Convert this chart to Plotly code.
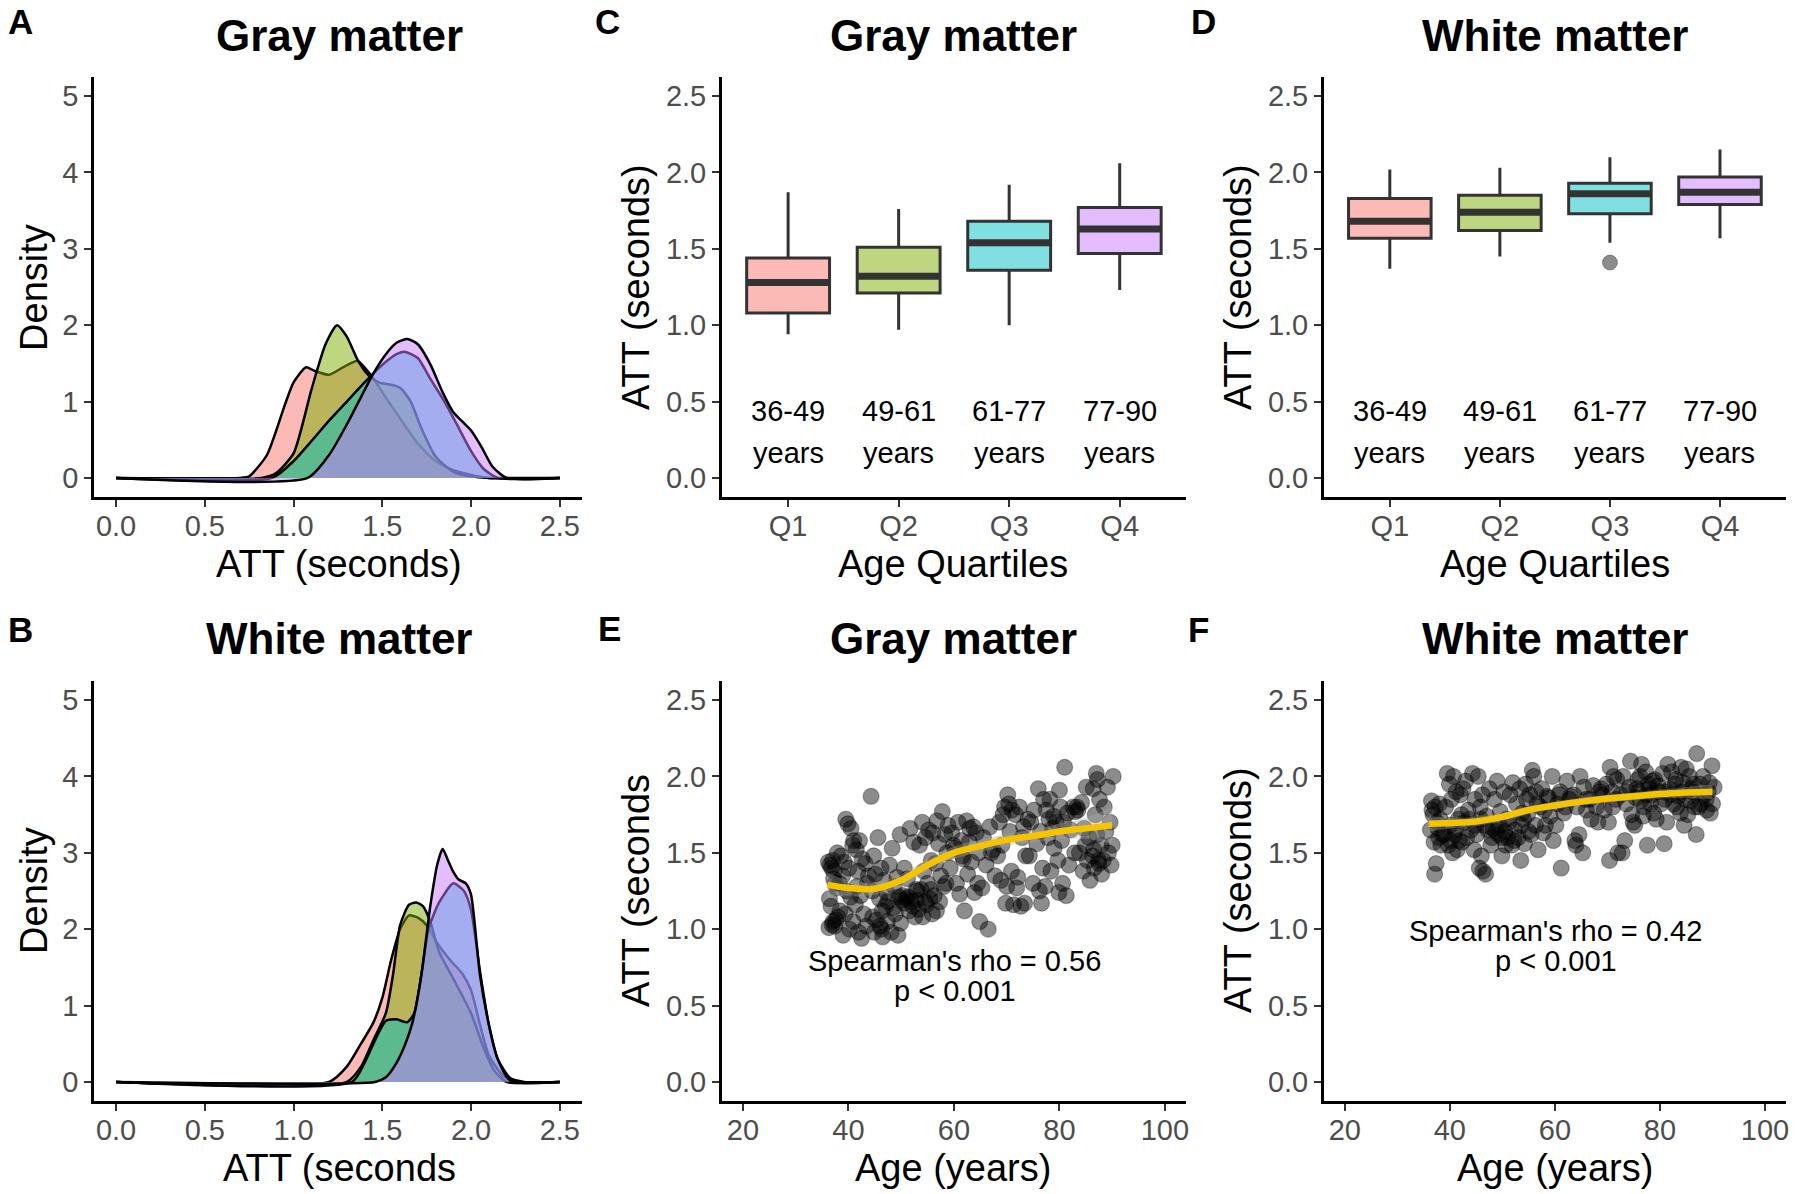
import plotly.graph_objects as go

W, H = 1800, 1194
FONT = "Liberation Sans, Arial, Helvetica, sans-serif"

# ---------------- data ----------------
quartiles = ["Q1", "Q2", "Q3", "Q4"]
age_ranges = ["36-49", "49-61", "61-77", "77-90"]

# Panel A: gray matter ATT density per age quartile
gm_d_q1_x = [0.0, 0.70, 0.75, 0.85, 0.95, 1.00, 1.07, 1.12, 1.20, 1.28, 1.36, 1.45, 1.52, 1.60, 1.70, 1.80, 1.90, 2.00, 2.10, 2.5]
gm_d_q1_y = [0, 0, 0.02, 0.30, 0.95, 1.25, 1.45, 1.40, 1.35, 1.45, 1.53, 1.30, 1.05, 0.78, 0.45, 0.22, 0.10, 0.04, 0, 0]
gm_d_q2_x = [0.0, 0.82, 0.90, 1.00, 1.10, 1.18, 1.245, 1.30, 1.36, 1.42, 1.48, 1.55, 1.60, 1.66, 1.72, 1.80, 1.90, 2.00, 2.10, 2.5]
gm_d_q2_y = [0, 0, 0.06, 0.32, 1.15, 1.75, 2.00, 1.85, 1.55, 1.35, 1.25, 1.22, 1.18, 1.00, 0.65, 0.28, 0.08, 0.02, 0, 0]
gm_d_q3_x = [0.0, 0.88, 1.00, 1.10, 1.20, 1.30, 1.40, 1.45, 1.52, 1.58, 1.63, 1.70, 1.77, 1.85, 1.92, 2.00, 2.07, 2.15, 2.5]
gm_d_q3_y = [0, 0, 0.22, 0.48, 0.75, 1.00, 1.25, 1.37, 1.52, 1.62, 1.65, 1.57, 1.30, 1.00, 0.70, 0.35, 0.12, 0, 0]
gm_d_q4_x = [0.0, 1.08, 1.20, 1.30, 1.40, 1.45, 1.52, 1.58, 1.64, 1.70, 1.77, 1.84, 1.90, 1.95, 2.00, 2.06, 2.12, 2.20, 2.5]
gm_d_q4_y = [0, 0, 0.30, 0.70, 1.15, 1.37, 1.62, 1.77, 1.82, 1.75, 1.49, 1.12, 0.86, 0.74, 0.62, 0.40, 0.15, 0, 0]

# Panel B: white matter ATT density per age quartile
wm_d_q1_x = [0.0, 1.20, 1.30, 1.38, 1.45, 1.50, 1.55, 1.60, 1.65, 1.70, 1.75, 1.80, 1.88, 1.95, 2.00, 2.05, 2.10, 2.18, 2.25, 2.5]
wm_d_q1_y = [0, 0, 0.20, 0.50, 0.78, 1.10, 1.60, 2.00, 2.18, 2.15, 2.05, 1.85, 1.60, 1.42, 1.20, 0.75, 0.35, 0.08, 0, 0]
wm_d_q2_x = [0.0, 1.30, 1.38, 1.45, 1.52, 1.56, 1.60, 1.65, 1.69, 1.73, 1.77, 1.82, 1.90, 2.00, 2.07, 2.13, 2.20, 2.5]
wm_d_q2_y = [0, 0, 0.20, 0.55, 0.90, 1.40, 2.05, 2.32, 2.35, 2.30, 2.10, 1.70, 1.35, 0.90, 0.45, 0.15, 0, 0]
wm_d_q3_x = [0.0, 1.33, 1.40, 1.46, 1.52, 1.58, 1.64, 1.68, 1.72, 1.76, 1.82, 1.90, 1.96, 2.00, 2.05, 2.10, 2.15, 2.22, 2.30, 2.5]
wm_d_q3_y = [0, 0, 0.25, 0.55, 0.80, 0.82, 0.78, 0.90, 1.40, 2.00, 2.35, 2.60, 2.50, 2.25, 1.45, 0.75, 0.30, 0.05, 0, 0]
wm_d_q4_x = [0.0, 1.46, 1.52, 1.58, 1.63, 1.67, 1.72, 1.77, 1.81, 1.84, 1.87, 1.90, 1.93, 1.97, 2.00, 2.05, 2.10, 2.15, 2.22, 2.5]
wm_d_q4_y = [0, 0, 0.06, 0.25, 0.50, 0.78, 1.40, 2.30, 2.85, 3.05, 2.90, 2.75, 2.65, 2.60, 2.45, 1.40, 0.75, 0.30, 0.02, 0]

# Panels C/D: box plot summaries
gm_lower = [0.94, 0.97, 1.00, 1.23]
gm_q1 = [1.08, 1.21, 1.36, 1.47]
gm_median = [1.28, 1.32, 1.54, 1.63]
gm_q3 = [1.44, 1.51, 1.68, 1.77]
gm_upper = [1.87, 1.76, 1.92, 2.06]

wm_lower = [1.37, 1.45, 1.54, 1.57]
wm_q1 = [1.57, 1.62, 1.73, 1.79]
wm_median = [1.68, 1.74, 1.86, 1.87]
wm_q3 = [1.83, 1.85, 1.93, 1.97]
wm_upper = [2.02, 2.03, 2.10, 2.15]
wm_outlier_quartile = [2]
wm_outlier_value = [1.41]

# Panel E: gray matter ATT vs age
gm_age = [
    36.2, 36.5, 36.8, 37.0, 37.3, 37.5, 37.8, 36.4, 37.1, 36.9, 37.6, 36.3, 37.9, 37.2, 36.7, 37.4, 38.0,
    39.5, 39.9, 40.5, 40.8, 38.6, 39.2, 40.1, 38.9, 39.7, 40.4, 38.4, 39.4, 40.9, 40.2, 39.0, 41.0, 38.3,
    42.1, 41.5, 42.6, 43.2, 41.8, 43.6, 42.3, 41.3, 42.9, 43.4, 41.9, 42.5, 44.3, 43.8, 41.6,
    45.6, 44.8, 46.2, 45.1, 46.7, 44.5, 45.9, 46.4, 45.3, 46.0, 44.9, 46.5, 47.0, 44.6, 46.3, 47.4,
    48.3, 47.8, 49.2, 48.7, 49.6, 47.5, 48.9, 49.9, 48.1, 49.4, 49.8, 47.3, 48.5,
    51.7, 52.4, 50.6, 51.2, 52.8, 50.3, 51.9, 52.2, 50.9, 51.5, 52.6, 53.0, 50.1, 50.6, 51.3, 52.9,
    54.0, 55.2, 54.6, 53.5, 55.7, 54.3, 55.0, 53.8, 55.4, 54.8, 53.3, 55.9, 54.1, 56.0, 54.5, 55.6,
    57.8, 56.8, 58.3, 57.1, 58.7, 56.5, 57.5, 58.1, 56.3, 57.3, 56.7, 58.9, 58.5,
    60.8, 59.6, 61.4, 60.2, 61.8, 59.3, 60.5, 61.1, 62.0, 59.9, 61.6,
    62.4, 63.7, 64.2, 62.9, 64.7, 63.3, 62.6, 64.5, 63.9, 64.9, 63.0,
    66.8, 65.6, 67.4, 66.1, 67.8, 65.3, 66.5, 67.1,
    70.2, 69.6, 71.0, 68.6, 70.6, 69.1, 68.3, 70.9, 68.9, 70.0, 69.8, 71.3, 69.3, 70.4,
    72.4, 71.7, 73.2, 72.9, 73.6, 72.1, 71.9, 73.4, 72.7, 74.0,
    76.0, 75.2, 74.6, 76.4, 75.7, 74.3, 76.8, 75.0, 76.2, 76.6, 77.0,
    80.0, 78.2, 77.5, 79.4, 78.7, 77.8, 79.0, 79.7, 78.4, 77.3, 79.9, 78.9, 78.0,
    81.0, 82.6, 81.5, 80.8, 82.1, 80.4, 82.9, 81.8, 80.6, 81.3, 83.0, 80.2,
    85.1, 84.2, 83.5, 84.7, 85.6, 83.8, 85.3, 84.5, 85.8, 83.3, 84.9,
    87.0, 87.2, 86.4, 87.6, 86.8, 87.9, 86.3, 87.4, 86.6, 88.0, 87.1, 86.5, 87.5,
    90.2, 89.1, 88.5, 89.6, 88.8, 90.0, 89.3, 88.3, 89.8,
]
gm_att = [
    1.44, 1.42, 1.40, 1.45, 1.38, 1.30, 1.27, 1.20, 1.05, 1.03, 1.06, 1.01, 1.50, 1.33, 1.15, 1.02, 1.08,
    1.72, 1.69, 1.66, 1.55, 1.48, 1.44, 1.40, 1.35, 1.25, 1.21, 1.12, 1.10, 1.05, 1.00, 0.96, 1.58, 1.30,
    1.58, 1.52, 1.46, 1.43, 1.38, 1.30, 1.22, 1.16, 1.10, 1.02, 0.98, 0.94, 1.87, 1.35, 1.28,
    1.60, 1.48, 1.40, 1.36, 1.32, 1.25, 1.20, 1.12, 1.06, 1.02, 0.98, 0.95, 1.15, 1.08, 1.00, 1.05,
    1.53, 1.42, 1.34, 1.28, 1.21, 1.18, 1.10, 1.04, 0.98, 0.96, 1.62, 1.24, 1.14,
    1.66, 1.57, 1.40, 1.33, 1.26, 1.22, 1.18, 1.15, 1.20, 1.12, 1.08, 1.25, 1.19, 1.17, 1.21, 1.19,
    1.70, 1.65, 1.60, 1.55, 1.45, 1.38, 1.30, 1.26, 1.20, 1.16, 1.13, 1.10, 1.08, 1.63, 1.18, 1.26,
    1.77, 1.71, 1.62, 1.56, 1.50, 1.43, 1.35, 1.28, 1.22, 1.18, 1.12, 1.68, 1.30,
    1.70, 1.63, 1.58, 1.53, 1.46, 1.40, 1.30, 1.23, 1.12, 1.55, 1.48,
    1.71, 1.67, 1.63, 1.57, 1.50, 1.44, 1.36, 1.30, 1.24, 1.05, 1.66,
    1.67, 1.60, 1.52, 1.42, 1.35, 1.27, 1.00, 1.50,
    1.88, 1.80, 1.78, 1.70, 1.64, 1.55, 1.48, 1.38, 1.32, 1.28, 1.17, 1.16, 1.75, 1.82,
    1.80, 1.75, 1.67, 1.60, 1.48, 1.34, 1.27, 1.17, 1.15, 1.72,
    1.92, 1.78, 1.70, 1.64, 1.56, 1.48, 1.40, 1.30, 1.25, 1.17, 1.85,
    1.91, 1.85, 1.78, 1.70, 1.66, 1.60, 1.53, 1.45, 1.38, 1.28, 1.24, 1.74, 1.72,
    2.06, 1.80, 1.76, 1.70, 1.65, 1.58, 1.50, 1.42, 1.30, 1.22, 1.77, 1.80,
    1.93, 1.83, 1.78, 1.66, 1.60, 1.50, 1.45, 1.38, 1.32, 1.80, 1.55,
    2.02, 1.98, 1.92, 1.85, 1.75, 1.55, 1.48, 1.45, 1.40, 1.36, 1.62, 1.52, 1.43,
    2.00, 1.93, 1.80, 1.70, 1.64, 1.55, 1.50, 1.45, 1.42,
]

# Panel F: white matter ATT vs age
wm_age = [
    36.5, 37.2, 36.8, 37.6, 36.3, 37.9, 37.0, 38.3, 37.4, 37.1, 38.0, 38.6, 36.6, 37.7, 38.2,
    39.5, 40.7, 39.9, 41.2, 40.3, 39.2, 41.6, 40.0, 40.9, 41.8, 39.7, 41.4, 40.5, 42.0, 39.0, 40.1, 41.0,
    44.3, 43.0, 42.5, 44.8, 43.5, 42.8, 44.0, 43.2, 42.3, 44.6, 42.2, 43.7, 44.9,
    45.4, 47.5, 46.2, 45.8, 47.0, 46.6, 45.1, 47.8, 46.0, 45.6, 46.3, 46.8, 45.9, 47.2,
    49.0, 50.3, 48.5, 49.6, 50.8, 48.2, 49.3, 50.0, 50.6, 49.9, 48.8, 48.0, 49.4, 50.5,
    52.0, 53.3, 51.5, 52.7, 53.8, 51.2, 52.4, 53.0, 51.8, 53.5, 54.0, 51.0, 52.2, 53.6,
    55.7, 56.0, 54.4, 55.2, 56.6, 54.8, 56.3, 55.5, 54.2, 56.8, 55.0, 54.6, 56.4,
    59.5, 57.5, 58.8, 57.2, 59.1, 58.2, 57.8, 59.7, 58.5, 58.0,
    62.3, 61.0, 62.8, 60.5, 61.7, 60.2, 61.2, 63.0, 60.8, 62.0,
    64.8, 65.5, 63.6, 64.2, 64.6, 63.8, 64.0, 65.3, 65.9,
    67.3, 68.5, 66.6, 67.9, 66.9, 68.2, 68.8, 66.0, 69.0,
    70.5, 71.2, 69.8, 70.9, 71.6, 69.4, 70.2, 70.4, 72.0, 71.8, 71.0,
    73.0, 74.2, 72.5, 73.6, 74.6, 73.3, 72.8, 74.9, 74.4, 73.8,
    76.5, 77.3, 75.8, 77.8, 76.0, 75.4, 77.0, 76.8, 75.2, 77.6, 78.0, 76.2, 75.6, 76.3, 77.4,
    80.5, 79.0, 79.6, 78.4, 80.2, 78.8, 79.3, 80.8, 81.0, 78.6, 78.2, 79.8, 80.9,
    81.5, 82.2, 83.0, 81.8, 83.5, 82.6, 83.9, 81.3, 82.9, 84.0, 82.0, 83.2,
    85.0, 85.6, 84.4, 86.2, 84.8, 86.6, 85.3, 84.6, 86.9, 86.0, 87.0, 84.2, 85.8, 86.4,
    89.9, 88.2, 87.6, 89.2, 88.8, 87.4, 89.6, 88.5, 90.3, 87.8, 88.9, 89.4, 90.0,
]
wm_att = [
    1.84, 1.80, 1.75, 1.70, 1.65, 1.60, 1.57, 1.55, 1.43, 1.36, 1.82, 1.62, 1.78, 1.66, 1.72,
    2.02, 2.00, 1.95, 1.90, 1.85, 1.80, 1.72, 1.68, 1.62, 1.58, 1.55, 1.52, 1.50, 1.88, 1.62, 1.58, 1.65,
    2.02, 1.97, 1.92, 1.85, 1.78, 1.70, 1.65, 1.60, 1.57, 1.52, 1.75, 1.72, 1.68,
    2.00, 1.92, 1.88, 1.80, 1.74, 1.68, 1.62, 1.55, 1.48, 1.40, 1.38, 1.36, 1.72, 1.65,
    1.97, 1.90, 1.85, 1.77, 1.72, 1.66, 1.62, 1.60, 1.55, 1.48, 1.64, 1.60, 1.68, 1.64,
    1.96, 1.92, 1.88, 1.82, 1.76, 1.70, 1.65, 1.60, 1.55, 1.45, 1.72, 1.60, 1.58, 1.68,
    2.04, 2.00, 1.95, 1.88, 1.82, 1.75, 1.68, 1.62, 1.56, 1.52, 1.64, 1.85, 1.90,
    2.00, 1.92, 1.86, 1.80, 1.74, 1.68, 1.63, 1.58, 1.87, 1.78,
    1.97, 1.90, 1.85, 1.82, 1.76, 1.68, 1.40, 1.87, 1.88, 1.80,
    2.00, 1.93, 1.88, 1.80, 1.62, 1.58, 1.55, 1.50, 1.85,
    1.94, 1.90, 1.85, 1.80, 1.72, 1.70, 1.92, 1.78, 1.88,
    2.06, 2.00, 1.95, 1.90, 1.85, 1.78, 1.70, 1.45, 1.50, 1.98, 1.80,
    2.00, 1.93, 1.88, 1.82, 1.75, 1.58, 1.50, 1.70, 2.10, 1.90,
    2.08, 2.03, 1.98, 1.95, 1.90, 1.86, 1.80, 1.74, 1.68, 1.55, 1.92, 2.00, 1.92, 1.84, 1.88,
    2.02, 1.98, 1.94, 1.88, 1.82, 1.76, 1.72, 1.56, 1.90, 1.97, 1.82, 1.90, 1.85,
    2.08, 2.03, 1.98, 1.92, 1.87, 1.82, 1.76, 1.70, 1.95, 2.06, 1.88, 1.80,
    2.05, 2.00, 1.96, 1.90, 1.85, 1.80, 1.75, 1.68, 1.62, 1.92, 2.15, 1.90, 1.84, 1.95,
    2.07, 2.00, 1.95, 1.90, 1.85, 1.80, 1.76, 1.88, 1.93, 1.82, 1.78, 1.96, 1.82,
]

# smoothed (loess) fits with confidence band
gm_fit_age = [36, 40, 45, 50, 55, 60, 65, 70, 75, 80, 85, 90]
gm_fit = [1.29, 1.27, 1.265, 1.32, 1.42, 1.50, 1.545, 1.585, 1.61, 1.64, 1.66, 1.68]
gm_fit_lo = [1.21, 1.22, 1.225, 1.28, 1.38, 1.46, 1.505, 1.545, 1.57, 1.59, 1.59, 1.56]
gm_fit_hi = [1.37, 1.32, 1.305, 1.36, 1.46, 1.54, 1.585, 1.625, 1.65, 1.69, 1.73, 1.80]
wm_fit_age = [36, 40, 45, 50, 55, 60, 65, 70, 75, 80, 85, 90]
wm_fit = [1.69, 1.695, 1.705, 1.735, 1.78, 1.81, 1.835, 1.855, 1.87, 1.885, 1.895, 1.90]
wm_fit_lo = [1.64, 1.66, 1.675, 1.71, 1.755, 1.785, 1.81, 1.83, 1.845, 1.855, 1.86, 1.85]
wm_fit_hi = [1.74, 1.73, 1.735, 1.76, 1.805, 1.835, 1.86, 1.88, 1.895, 1.915, 1.93, 1.95]

gm_rho_text = ["Spearman's rho = 0.56", "p < 0.001"]
wm_rho_text = ["Spearman's rho = 0.42", "p < 0.001"]

# ---------------- styling ----------------
FILL = ["rgba(248,118,109,0.5)", "rgba(124,174,0,0.5)", "rgba(0,191,196,0.5)", "rgba(199,124,255,0.5)"]
BOX_FILL = ["#FBBAB6", "#BDD67F", "#7FDFE1", "#E3BDFF"]
YELLOW = "#F5C400"

fig = go.Figure()

# panel pixel boxes: (left, right, top, bottom)
boxes = {
    "": (94, 583, 77, 497),        # A
    "2": (94, 583, 681, 1101),     # B
    "3": (723, 1188, 77, 497),     # C
    "4": (1326, 1789, 77, 497),    # D
    "5": (723, 1188, 681, 1101),   # E
    "6": (1326, 1789, 681, 1101),  # F
}

tickfont = dict(family=FONT, size=29, color="#4D4D4D")
for k, (l, r, t, b) in boxes.items():
    common = dict(showline=True, linecolor="black", linewidth=2.5, ticks="outside", ticklen=7,
                  tickwidth=1.8, tickcolor="#333333", showgrid=False, zeroline=False,
                  tickfont=tickfont, fixedrange=True)
    fig.layout["xaxis" + k] = dict(domain=[l / W, r / W], anchor="y" + k, ticklabelstandoff=-6, **common)
    fig.layout["yaxis" + k] = dict(domain=[1 - b / H, 1 - t / H], anchor="x" + k, **common)

# density panels
for k, sets in [("", [(gm_d_q1_x, gm_d_q1_y), (gm_d_q2_x, gm_d_q2_y), (gm_d_q3_x, gm_d_q3_y), (gm_d_q4_x, gm_d_q4_y)]),
                ("2", [(wm_d_q1_x, wm_d_q1_y), (wm_d_q2_x, wm_d_q2_y), (wm_d_q3_x, wm_d_q3_y), (wm_d_q4_x, wm_d_q4_y)])]:
    for i, (xs, ys) in enumerate(sets):
        fig.add_trace(go.Scatter(x=xs, y=ys, mode="lines", fill="tozeroy", fillcolor=FILL[i],
                                 line=dict(color="black", width=2.5, shape="spline", smoothing=0.6),
                                 name=quartiles[i], showlegend=False,
                                 xaxis="x" + k if k else "x", yaxis="y" + k if k else "y"))
    fig.layout["xaxis" + k].update(range=[-0.125, 2.625], tickvals=[0, 0.5, 1, 1.5, 2, 2.5], tickformat=".1f")
    fig.layout["yaxis" + k].update(range=[-0.25, 5.25], tickvals=[0, 1, 2, 3, 4, 5])

# box panels
for k, lo, q1, med, q3, hi in [("3", gm_lower, gm_q1, gm_median, gm_q3, gm_upper),
                               ("4", wm_lower, wm_q1, wm_median, wm_q3, wm_upper)]:
    for i in range(4):
        fig.add_trace(go.Box(x=[i], q1=[q1[i]], median=[med[i]], q3=[q3[i]], lowerfence=[lo[i]],
                             upperfence=[hi[i]], width=0.75, whiskerwidth=0, fillcolor=BOX_FILL[i],
                             line=dict(color="#333333", width=3), boxpoints=False,
                             name=quartiles[i], showlegend=False, xaxis="x" + k, yaxis="y" + k))
        fig.add_trace(go.Scatter(x=[i - 0.375, i + 0.375], y=[med[i], med[i]], mode="lines",
                                 line=dict(color="#333333", width=7), showlegend=False,
                                 xaxis="x" + k, yaxis="y" + k, hoverinfo="skip"))
    fig.layout["xaxis" + k].update(range=[-0.6, 3.6], tickvals=[0, 1, 2, 3], ticktext=quartiles)
    fig.layout["yaxis" + k].update(range=[-0.125, 2.625], tickvals=[0, 0.5, 1, 1.5, 2, 2.5], tickformat=".1f")
    for i in range(4):
        fig.add_annotation(x=i, y=0.435, xref="x" + k, yref="y" + k, text=age_ranges[i], showarrow=False,
                           font=dict(family=FONT, size=29, color="black"))
        fig.add_annotation(x=i, y=0.16, xref="x" + k, yref="y" + k, text="years", showarrow=False,
                           font=dict(family=FONT, size=29, color="black"))

fig.add_trace(go.Scatter(x=wm_outlier_quartile, y=wm_outlier_value, mode="markers",
                         marker=dict(size=15, color="rgba(0,0,0,0.45)", line=dict(color="rgba(0,0,0,0.3)", width=1)),
                         showlegend=False, xaxis="x4", yaxis="y4"))

# scatter panels
for k, ages, atts, fa, ff, flo, fhi, txt, ty in [
        ("5", gm_age, gm_att, gm_fit_age, gm_fit, gm_fit_lo, gm_fit_hi, gm_rho_text, [0.79, 0.595]),
        ("6", wm_age, wm_att, wm_fit_age, wm_fit, wm_fit_lo, wm_fit_hi, wm_rho_text, [0.99, 0.79])]:
    fig.add_trace(go.Scatter(x=ages, y=atts, mode="markers",
                             marker=dict(size=16, color="rgba(0,0,0,0.45)", line=dict(color="rgba(0,0,0,0.3)", width=1.2)),
                             showlegend=False, xaxis="x" + k, yaxis="y" + k))
    fig.add_trace(go.Scatter(x=fa, y=fhi, mode="lines", line=dict(width=0, shape="spline"),
                             showlegend=False, xaxis="x" + k, yaxis="y" + k, hoverinfo="skip"))
    fig.add_trace(go.Scatter(x=fa, y=flo, mode="lines", line=dict(width=0, shape="spline"), fill="tonexty",
                             fillcolor="rgba(170,170,170,0.35)", showlegend=False, xaxis="x" + k, yaxis="y" + k,
                             hoverinfo="skip"))
    fig.add_trace(go.Scatter(x=fa, y=ff, mode="lines", line=dict(color=YELLOW, width=6.5, shape="spline"),
                             showlegend=False, xaxis="x" + k, yaxis="y" + k))
    fig.layout["xaxis" + k].update(range=[16, 104], tickvals=[20, 40, 60, 80, 100])
    fig.layout["yaxis" + k].update(range=[-0.125, 2.625], tickvals=[0, 0.5, 1, 1.5, 2, 2.5], tickformat=".1f")
    for line, yv in zip(txt, ty):
        fig.add_annotation(x=60.2, y=yv, xref="x" + k, yref="y" + k, text=line, showarrow=False,
                           font=dict(family=FONT, size=29, color="black"))

# text: panel letters, titles, axis titles
def ann(text, px, py, size, bold=False, angle=0):
    fig.add_annotation(x=px / W, y=1 - py / H, xref="paper", yref="paper", text=("<b>%s</b>" % text) if bold else text,
                       showarrow=False, textangle=angle, xanchor="center", yanchor="middle",
                       font=dict(family=FONT, size=size, color="black"))

for letter, px, py in [("A", 21, 21), ("B", 21, 629), ("C", 609, 21), ("D", 1206, 21), ("E", 611, 628), ("F", 1201, 629)]:
    ann(letter, px, py, 35, bold=True)

for title, px, py in [("Gray matter", 340, 35), ("White matter", 340, 638), ("Gray matter", 955, 35),
                      ("White matter", 1558, 35), ("Gray matter", 955, 638), ("White matter", 1558, 638)]:
    ann(title, px, py, 44, bold=True)

for text, px, py in [("ATT (seconds)", 340, 564), ("ATT (seconds", 340, 1168), ("Age Quartiles", 955, 564),
                     ("Age Quartiles", 1558, 564), ("Age (years)", 955, 1168), ("Age (years)", 1558, 1168)]:
    ann(text, px, py, 38)

for text, px, py in [("Density", 34, 287), ("Density", 34, 890), ("ATT (seconds)", 637, 287),
                     ("ATT (seconds)", 1240, 287), ("ATT (seconds", 637, 890), ("ATT (seconds)", 1240, 890)]:
    ann(text, px, py, 38, angle=-90)

fig.update_layout(width=W, height=H, margin=dict(l=0, r=0, t=0, b=0), plot_bgcolor="white",
                  paper_bgcolor="white", showlegend=False, font=dict(family=FONT))

fig.write_html("out.html", config={"displayModeBar": False},
               post_script="document.body.style.margin='0px';document.body.style.overflow='hidden';")
